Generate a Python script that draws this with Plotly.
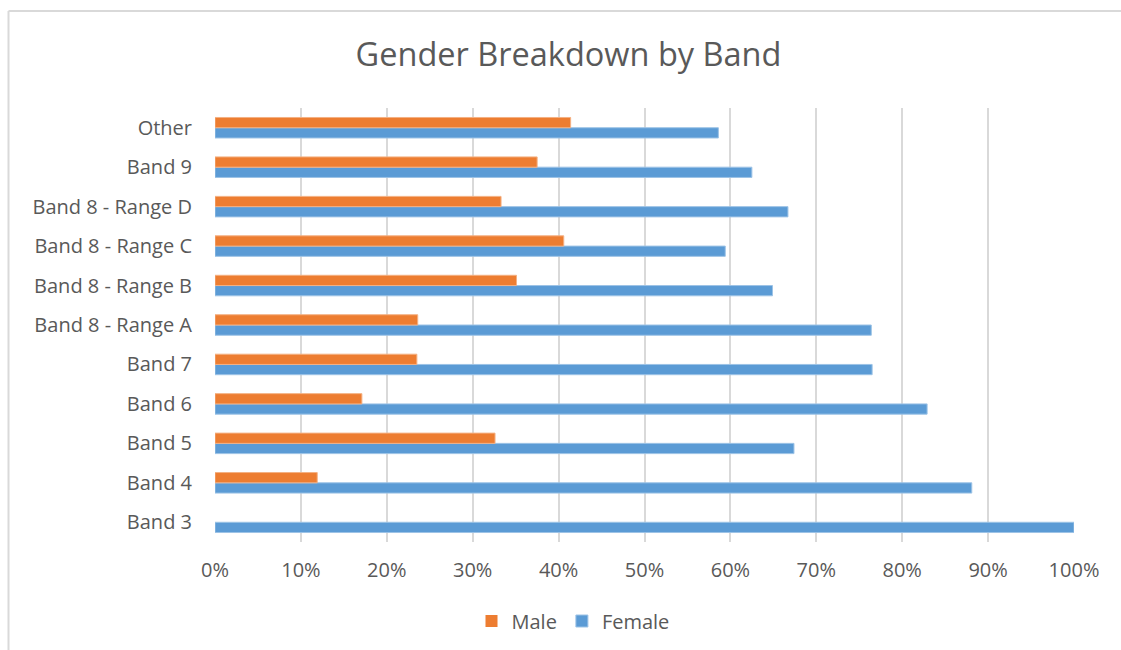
import plotly.graph_objects as go

categories = ["Band 3", "Band 4", "Band 5", "Band 6", "Band 7", "Band 8 - Range A",
              "Band 8 - Range B", "Band 8 - Range C", "Band 8 - Range D", "Band 9", "Other"]
male = [0.0, 0.119, 0.326, 0.171, 0.235, 0.236, 0.351, 0.406, 0.333, 0.375, 0.414]
female = [1.0, 0.881, 0.674, 0.829, 0.765, 0.764, 0.649, 0.594, 0.667, 0.625, 0.586]
x_ticks = [0, 0.1, 0.2, 0.3, 0.4, 0.5, 0.6, 0.7, 0.8, 0.9, 1.0]
x_tick_labels = ["0%", "10%", "20%", "30%", "40%", "50%", "60%", "70%", "80%", "90%", "100%"]

FONT = "Open Sans"
TXT = "#595959"

fig = go.Figure()
fig.add_trace(go.Bar(y=categories, x=female, name="Female", orientation="h",
                     marker=dict(color="#5B9BD5",
                                 line=dict(color="#9DC3E6", width=[0 if v == 0 else 1 for v in female])),
                     legendrank=2))
fig.add_trace(go.Bar(y=categories, x=male, name="Male", orientation="h",
                     marker=dict(color="#ED7D31",
                                 line=dict(color="#F4B183", width=[0 if v == 0 else 1 for v in male])),
                     legendrank=1))

fig.update_layout(
    width=1121, height=650,
    margin=dict(l=215, r=47, t=108, b=108),
    paper_bgcolor="white", plot_bgcolor="white",
    barmode="group", bargap=0.48, bargroupgap=0,
    title=dict(text="Gender Breakdown by Band", x=568.5 / 1121, xref="container", xanchor="center",
               y=1 - 55 / 650, yref="container", yanchor="middle",
               font=dict(family=FONT, size=32.5, color=TXT)),
    font=dict(family=FONT, size=20, color=TXT),
    showlegend=True,
    legend=dict(orientation="h", x=573 / 1121, xref="container", xanchor="center",
                y=1 - 621 / 650, yref="container", yanchor="middle",
                font=dict(size=20, color=TXT),
                itemwidth=30, traceorder="normal"),
    xaxis=dict(range=[0, 1], tickvals=x_ticks, ticktext=x_tick_labels,
               showgrid=True, gridcolor="#D9D9D9", gridwidth=1.5,
               zeroline=False, showline=False, ticks="", ticklabelstandoff=14,
               tickfont=dict(size=20, color=TXT)),
    yaxis=dict(showgrid=False, zeroline=False, showline=False, ticks="",
               ticklabelstandoff=22, tickfont=dict(size=20, color=TXT)),
    shapes=[
        dict(type="line", xref="paper", yref="paper",
             x0=(8.5 - 215) / 859, x1=(1121 - 215) / 859,
             y0=(542 - 11) / 434, y1=(542 - 11) / 434,
             line=dict(color="#D9D9D9", width=2)),
        dict(type="line", xref="paper", yref="paper",
             x0=(8.5 - 215) / 859, x1=(8.5 - 215) / 859,
             y0=(542 - 11) / 434, y1=(542 - 650) / 434,
             line=dict(color="#D9D9D9", width=2)),
    ],
)

fig.write_html("out.html")
